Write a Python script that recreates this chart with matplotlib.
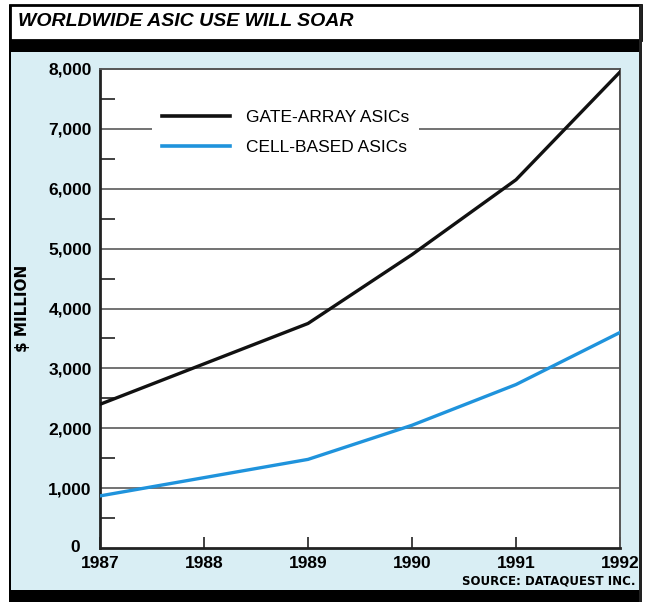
import numpy as np
import matplotlib
matplotlib.use('Agg')
import matplotlib.pyplot as plt
from matplotlib.patches import Rectangle

# data ($ million)
years = [1987, 1988, 1989, 1990, 1991, 1992]
gate_array = [2400, 3075, 3750, 4900, 6150, 7950]
cell_based = [870, 1175, 1480, 2050, 2730, 3600]
y_ticks = [0, 1000, 2000, 3000, 4000, 5000, 6000, 7000, 8000]
y_labels = ['0', '1,000', '2,000', '3,000', '4,000', '5,000', '6,000', '7,000', '8,000']

W, H = 652, 602
bg_blue = '#d9eef4'
cond = ['Liberation Sans', 'DejaVu Sans']

fig = plt.figure(figsize=(W / 100, H / 100), dpi=100)
fig.patch.set_facecolor('white')

def box(x0, y0, x1, y1, **kw):
    # pixel box, y measured from the top
    fig.patches.append(Rectangle((x0 / W, 1 - y1 / H), (x1 - x0) / W, (y1 - y0) / H,
                                 transform=fig.transFigure, figure=fig, zorder=0, **kw))

box(10, 52, 641, 591, facecolor=bg_blue, edgecolor='none')
box(10, 5, 641, 40, facecolor='white', edgecolor='black', linewidth=2)
box(10, 40, 641, 52, facecolor='black', edgecolor='none')
box(10, 590, 641, 602, facecolor='black', edgecolor='none')
box(9, 5, 11, 602, facecolor='black', edgecolor='none')
box(639, 5, 642, 602, facecolor='#222222', edgecolor='none')

fig.text(18 / W, 1 - 22 / H, 'WORLDWIDE ASIC USE WILL SOAR', fontsize=14,
         fontweight='bold', style='italic', va='center', ha='left', family=cond)

ax = fig.add_axes([100 / W, 1 - 548 / H, 520 / W, 479 / H])
ax.set_zorder(2)
ax.set_facecolor('white')

for v in y_ticks[1:-1]:
    ax.axhline(v, color='#5a5a5a', linewidth=1.2, zorder=1)

ax.plot(years, gate_array, color='#111111', linewidth=2.4, label='GATE-ARRAY ASICs', zorder=3)
ax.plot(years, cell_based, color='#1f93dc', linewidth=2.4, label='CELL-BASED ASICs', zorder=3)

ax.set_xlim(1987, 1992)
ax.set_ylim(0, 8000)
ax.set_xticks(years)
ax.set_xticklabels([str(y) for y in years], fontsize=12.5, fontweight='bold', family=cond)
ax.set_yticks(y_ticks)
# the zero sits further left in the original so it clears "1987"
ax.set_yticklabels([''] + y_labels[1:], fontsize=12.5, fontweight='bold', family=cond)
ax.text(-0.038, y_ticks[0], y_labels[0], transform=ax.get_yaxis_transform(), ha='right',
        va='center', fontsize=12.5, fontweight='bold', family=cond)
ax.set_yticks(np.arange(500, 8000, 1000), minor=True)
ax.tick_params(axis='x', direction='in', length=8, width=1.3, color='#333333', pad=6)
ax.tick_params(axis='y', which='major', length=0, pad=6)
ax.tick_params(axis='y', which='minor', direction='in', length=11, width=1.3, color='#333333')

for s in ['left', 'bottom']:
    ax.spines[s].set_linewidth(2)
    ax.spines[s].set_color('#222222')
for s in ['top', 'right']:
    ax.spines[s].set_linewidth(1.4)
    ax.spines[s].set_color('#555555')

ax.set_ylabel('$ MILLION', fontsize=11, fontweight='bold', family='DejaVu Sans')
ax.yaxis.set_label_coords(-0.135, 0.5)

leg = ax.legend(loc='upper left', bbox_to_anchor=(0.083, 0.955), frameon=True,
                fancybox=False, handlelength=3.9, handletextpad=0.9, labelspacing=0.85,
                borderpad=0.6, prop={'family': cond, 'size': 12.5})
leg.get_frame().set_facecolor('white')
leg.get_frame().set_edgecolor('none')
leg.get_frame().set_alpha(1)
for line in leg.get_lines():
    line.set_linewidth(2.6)

fig.text(636 / W, 1 - 581 / H, 'SOURCE: DATAQUEST INC.', fontsize=8.5, fontweight='bold',
         ha='right', va='center', family='DejaVu Sans')

fig.savefig('out.png', dpi=100, facecolor=fig.get_facecolor())
